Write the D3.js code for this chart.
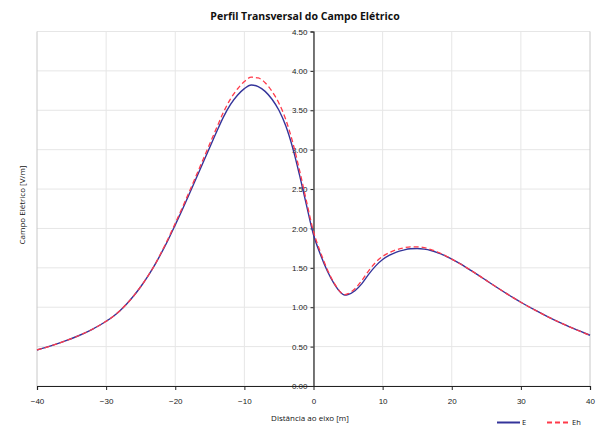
<!DOCTYPE html>
<html>
<head>
<meta charset="utf-8">
<script src="https://cdn.jsdelivr.net/npm/d3@7"></script>
<style>
  body { margin: 0; background: #fff; }
  svg { font-family: "Open Sans", "Liberation Sans", sans-serif; }
</style>
</head>
<body>
<script>
const width = 601;
const height = 426;

// distancia ao eixo [m]
const xE = [-40, -38, -36, -34, -32, -31, -30, -29, -28, -27, -26, -25, -24, -23, -22, -21, -20, -19, -18, -17, -16, -15, -14, -13, -12, -11, -10, -9, -8, -7, -6, -5, -4, -3, -2, -1,
            0, 1, 2, 3, 4, 4.5, 5, 6, 7, 8, 9, 10, 11, 12, 13, 14, 15, 16, 17, 18, 19, 20, 21, 22, 23, 24, 25, 26, 27, 28, 29, 30, 32, 34, 36, 38, 40];
// campo eletrico E [V/m]
const valE = [0.457, 0.509, 0.569, 0.638, 0.72, 0.768, 0.822, 0.882, 0.956, 1.044, 1.145, 1.26, 1.389, 1.532, 1.689, 1.86, 2.045, 2.235, 2.43, 2.63, 2.83, 3.03, 3.23, 3.42, 3.575, 3.69, 3.775, 3.82, 3.80, 3.74, 3.64, 3.50, 3.30, 3.02, 2.67, 2.29,
              1.92, 1.67, 1.46, 1.295, 1.18, 1.155, 1.162, 1.21, 1.30, 1.42, 1.525, 1.605, 1.66, 1.70, 1.725, 1.742, 1.745, 1.738, 1.72, 1.69, 1.655, 1.61, 1.562, 1.51, 1.455, 1.398, 1.34, 1.282, 1.225, 1.169, 1.115, 1.063, 0.965, 0.875, 0.791, 0.715, 0.644];
// campo eletrico Eh [V/m]
const valEh = [0.457, 0.509, 0.569, 0.638, 0.72, 0.768, 0.822, 0.882, 0.956, 1.044, 1.145, 1.26, 1.389, 1.532, 1.699, 1.875, 2.065, 2.26, 2.46, 2.665, 2.87, 3.075, 3.28, 3.48, 3.645, 3.77, 3.865, 3.92, 3.91, 3.85, 3.74, 3.59, 3.38, 3.09, 2.73, 2.34,
               1.96, 1.70, 1.48, 1.305, 1.185, 1.16, 1.172, 1.235, 1.34, 1.465, 1.57, 1.645, 1.695, 1.73, 1.753, 1.767, 1.767, 1.756, 1.732, 1.698, 1.659, 1.61, 1.562, 1.51, 1.455, 1.398, 1.34, 1.282, 1.225, 1.169, 1.115, 1.063, 0.965, 0.875, 0.791, 0.715, 0.644];

const xTicks = [-40, -30, -20, -10, 0, 10, 20, 30, 40];
const yTicks = [0, 0.5, 1, 1.5, 2, 2.5, 3, 3.5, 4, 4.5];

const svg = d3.select("body")
    .append("svg")
    .attr("width", width)
    .attr("height", height);

const x = d3.scaleLinear().domain([-40, 40]).range([37, 590]);
const y = d3.scaleLinear().domain([0, 4.5]).range([386, 31.5]);

// grelha
svg.append("g")
    .selectAll("line")
    .data(yTicks)
    .enter().append("line")
    .attr("x1", x(-40)).attr("x2", x(40))
    .attr("y1", d => y(d)).attr("y2", d => y(d))
    .attr("stroke", "#e6e6e6")
    .attr("stroke-width", 1);

svg.append("g")
    .selectAll("line")
    .data(xTicks)
    .enter().append("line")
    .attr("x1", d => x(d)).attr("x2", d => x(d))
    .attr("y1", y(0)).attr("y2", y(4.5))
    .attr("stroke", d => (d === -40 || d === 40) ? "#c8c8c8" : "#e6e6e6")
    .attr("stroke-width", 1);

// eixos
const xAxis = svg.append("g")
    .attr("transform", `translate(0,${y(0)})`)
    .call(d3.axisBottom(x).tickValues(xTicks).tickSize(4).tickFormat(d3.format("d")));
xAxis.select(".domain").attr("stroke", "#222").attr("stroke-width", 1.2);
xAxis.selectAll(".tick line").attr("stroke", "#222");
xAxis.selectAll("text").attr("font-size", 8).attr("fill", "#222").attr("dy", "1.4em");

const yAxis = svg.append("g")
    .attr("transform", `translate(${x(0)},0)`)
    .call(d3.axisLeft(y).tickValues(yTicks).tickSize(3).tickFormat(d3.format(".2f")));
yAxis.select(".domain").attr("stroke", "#222").attr("stroke-width", 1.2);
yAxis.selectAll(".tick line").attr("stroke", "#222");
yAxis.selectAll("text").attr("font-size", 8).attr("fill", "#222").attr("x", -6);

// curvas
const line = vals => d3.line()
    .x((d, i) => x(xE[i]))
    .y(d => y(d))
    .curve(d3.curveMonotoneX)(vals);

svg.append("path")
    .attr("d", line(valE))
    .attr("fill", "none")
    .attr("stroke", "#34349a")
    .attr("stroke-width", 1.4);

svg.append("path")
    .attr("d", line(valEh))
    .attr("fill", "none")
    .attr("stroke", "#ff3a4a")
    .attr("stroke-width", 1.3)
    .attr("stroke-dasharray", "5,3");

// textos
svg.append("text")
    .attr("x", 305).attr("y", 20)
    .attr("text-anchor", "middle")
    .attr("font-size", 10.5)
    .attr("font-weight", "bold")
    .attr("fill", "#111")
    .text("Perfil Transversal do Campo Elétrico");

svg.append("text")
    .attr("x", 310).attr("y", 421)
    .attr("text-anchor", "middle")
    .attr("font-size", 8)
    .attr("fill", "#111")
    .text("Distância ao eixo [m]");

svg.append("text")
    .attr("transform", "translate(25,205) rotate(-90)")
    .attr("text-anchor", "middle")
    .attr("font-size", 8)
    .attr("fill", "#111")
    .text("Campo Elétrico [V/m]");

// legenda
const legend = [{name: "E", color: "#34349a", dash: null, x0: 497},
                {name: "Eh", color: "#ff3a4a", dash: "5,3", x0: 547}];
const lg = svg.append("g").selectAll("g").data(legend).enter().append("g");
lg.append("line")
    .attr("x1", d => d.x0).attr("x2", d => d.x0 + 23)
    .attr("y1", 422.5).attr("y2", 422.5)
    .attr("stroke", d => d.color)
    .attr("stroke-width", 2)
    .attr("stroke-dasharray", d => d.dash);
lg.append("text")
    .attr("x", d => d.x0 + 25).attr("y", 424.5)
    .attr("font-size", 7.5)
    .attr("fill", "#111")
    .text(d => d.name);
</script>
</body>
</html>
